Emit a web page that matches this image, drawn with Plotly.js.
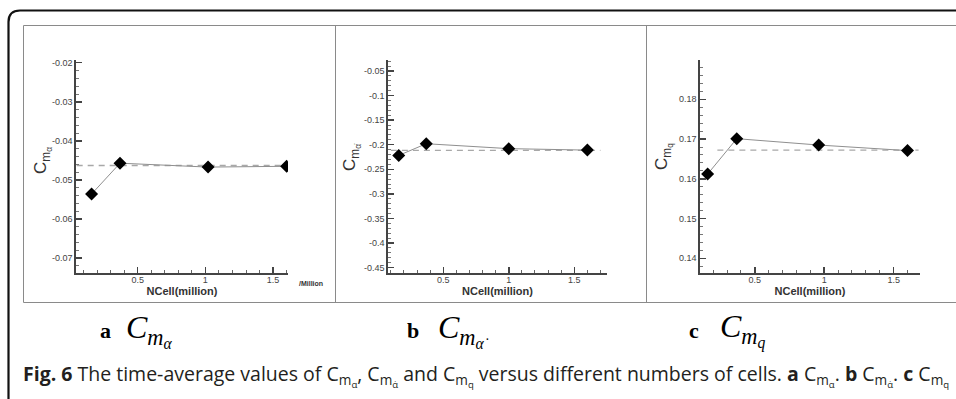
<!DOCTYPE html>
<html>
<head>
<meta charset="utf-8">
<script src="https://cdn.plot.ly/plotly-3.0.1.min.js"></script>
<style>html,body{margin:0;padding:0;background:#fff;}#chart{width:956px;height:399px;}</style>
</head>
<body>
<div id="chart"></div>
<script>
// ---- data ----
var xA = [0.16, 0.37, 1.02, 1.6];
var yA = [-0.0536, -0.0457, -0.0467, -0.0465];
var refA = -0.0463;
var dashXA = [0.05, 1.61];

var xB = [0.16, 0.37, 1.0, 1.6];
var yB = [-0.2218, -0.198, -0.208, -0.211];
var refB = -0.2117;
var dashXB = [0.1, 1.7];

var xC = [0.16, 0.37, 0.96, 1.6];
var yC = [0.1612, 0.1701, 0.1685, 0.1671];
var refC = 0.1672;
var dashXC = [0.23, 1.68];

var xTickVals = [0.5, 1, 1.5];
var xTickText = ["0.5", "1", "1.5"];
var yTickValsA = [-0.02, -0.03, -0.04, -0.05, -0.06, -0.07];
var yTickTextA = ["-0.02", "-0.03", "-0.04", "-0.05", "-0.06", "-0.07"];
var yTickValsB = [-0.05, -0.1, -0.15, -0.2, -0.25, -0.3, -0.35, -0.4, -0.45];
var yTickTextB = ["-0.05", "-0.1", "-0.15", "-0.2", "-0.25", "-0.3", "-0.35", "-0.4", "-0.45"];
var yTickValsC = [0.14, 0.15, 0.16, 0.17, 0.18];
var yTickTextC = ["0.14", "0.15", "0.16", "0.17", "0.18"];

var yTitles = ['C<sub>m<sub>α</sub></sub>', 'C<sub>m<sub>α̇</sub></sub>', 'C<sub>m<sub>q</sub></sub>'];
var xTitle = 'NCell(million)';

// ---- helpers ----
var W = 956, H = 399;
function px(x){ return x / W; }
function py(y){ return 1 - y / H; }

var lineCol = '#8f8f8f';
var dashCol = '#a8a8a8';
function series(x, y, xa, ya){
  return {x: x, y: y, xaxis: xa, yaxis: ya, type: 'scatter', mode: 'lines+markers',
    line: {color: lineCol, width: 1},
    marker: {symbol: 'diamond', size: 10, color: '#000'},
    showlegend: false, hoverinfo: 'x+y'};
}
function refLine(xr, v, xa, ya){
  return {x: xr, y: [v, v], xaxis: xa, yaxis: ya, type: 'scatter', mode: 'lines',
    line: {color: dashCol, width: 1.3, dash: '6px,5px'}, showlegend: false, hoverinfo: 'skip'};
}

var data = [
  refLine(dashXA, refA, 'x', 'y'), series(xA, yA, 'x', 'y'),
  refLine(dashXB, refB, 'x2', 'y2'), series(xB, yB, 'x2', 'y2'),
  refLine(dashXC, refC, 'x3', 'y3'), series(xC, yC, 'x3', 'y3')
];

var tickFont = {family: 'Liberation Sans, Arial, sans-serif', size: 9, color: '#444'};
function xaxis(l, r, range, anchor){
  return {domain: [px(l), px(r)], range: range, anchor: anchor,
    showline: true, linecolor: '#444', linewidth: 1.6, zeroline: false, showgrid: false,
    ticks: 'inside', ticklen: 6, tickwidth: 1.5, tickcolor: '#444',
    tickvals: xTickVals, ticktext: xTickText, tickfont: tickFont, ticklabelstandoff: -2,
    minor: {ticks: 'inside', ticklen: 3, tickwidth: 1, tickcolor: '#666', dtick: 0.1, tick0: 0},
    title: {text: '<b>' + xTitle + '</b>', font: {family: 'Liberation Sans, Arial, sans-serif', size: 11, color: '#333'}, standoff: 0}
  };
}
function yaxis(t, b, range, anchor, vals, txt, minorD){
  return {domain: [py(b), py(t)], range: range, anchor: anchor,
    showline: true, linecolor: '#444', linewidth: 1.6, zeroline: false, showgrid: false,
    ticks: 'inside', ticklen: 6, tickwidth: 1.5, tickcolor: '#444',
    tickvals: vals, ticktext: txt, tickfont: tickFont, ticklabelstandoff: 0,
    minor: {ticks: 'inside', ticklen: 3, tickwidth: 1, tickcolor: '#777', dtick: minorD, tick0: 0}
  };
}

var serif = 'Liberation Serif, Times New Roman, serif';
var capFont = 'Open Sans, Noto Sans, sans-serif';

var shapes = [
  // outer rounded frame
  {type: 'path', xref: 'paper', yref: 'paper',
   path: 'M ' + px(8.5) + ',' + py(402) + ' L ' + px(8.5) + ',' + py(22) +
         ' Q ' + px(8.5) + ',' + py(10.5) + ' ' + px(20) + ',' + py(10.5) + ' L ' + px(960) + ',' + py(10.5),
   line: {color: '#111', width: 2.2}},
  // panel box
  {type: 'rect', xref: 'paper', yref: 'paper', x0: px(23.5), x1: px(962), y0: py(302.5), y1: py(25.5),
   line: {color: '#8a8a8a', width: 1}},
  {type: 'line', xref: 'paper', yref: 'paper', x0: px(335.5), x1: px(335.5), y0: py(302.5), y1: py(25.5),
   line: {color: '#8a8a8a', width: 1}},
  {type: 'line', xref: 'paper', yref: 'paper', x0: px(646.5), x1: px(646.5), y0: py(302.5), y1: py(25.5),
   line: {color: '#8a8a8a', width: 1}}
];

function ann(x, y, text, font, xanchor, yanchor, angle){
  return {xref: 'paper', yref: 'paper', x: px(x), y: py(y), text: text, showarrow: false,
    font: font, xanchor: xanchor || 'left', yanchor: yanchor || 'middle', textangle: angle || 0};
}
var yTitleFont = {family: 'Liberation Sans, Arial, sans-serif', size: 17, color: '#333'};

var annotations = [
  ann(43, 161, yTitles[0], yTitleFont, 'center', 'middle', -90),
  ann(352, 157, yTitles[1], yTitleFont, 'center', 'middle', -90),
  ann(664, 157, yTitles[2], yTitleFont, 'center', 'middle', -90),
  ann(297, 283, '<b>/Million</b>', {family: 'Liberation Sans, Arial, sans-serif', size: 7, color: '#333'}),
  ann(98, 330, '<b>a</b>', {family: serif, size: 22, color: '#000'}),
  ann(124, 330, '<i>C</i><sub><i>m</i><sub><i>α</i></sub></sub>', {family: serif, size: 32, color: '#000'}),
  ann(405, 330, '<b>b</b>', {family: serif, size: 22, color: '#000'}),
  ann(436, 330, '<i>C</i><sub><i>m</i><sub><i>α̇</i></sub></sub>', {family: serif, size: 32, color: '#000'}),
  ann(687, 330, '<b>c</b>', {family: serif, size: 22, color: '#000'}),
  ann(718, 330, '<i>C</i><sub><i>m</i><sub><i>q</i></sub></sub>', {family: serif, size: 32, color: '#000'}),
  ann(21, 375, '<b>Fig. 6</b> The time-average values of C<sub>m<sub>α</sub></sub>, C<sub>m<sub>α̇</sub></sub> and C<sub>m<sub>q</sub></sub> versus different numbers of cells. <b>a</b> C<sub>m<sub>α</sub></sub>. <b>b</b> C<sub>m<sub>α̇</sub></sub>. <b>c</b> C<sub>m<sub>q</sub></sub>',
      {family: capFont, size: 19.5, color: '#231f20'})
];

var layout = {
  width: W, height: H, margin: {l: 0, r: 0, t: 0, b: 0},
  paper_bgcolor: '#fff', plot_bgcolor: 'rgba(0,0,0,0)',
  showlegend: false,
  xaxis: xaxis(76, 288, [0.045, 1.61], 'y'),
  yaxis: yaxis(60, 273, [-0.0738, -0.0193], 'x', yTickValsA, yTickTextA, 0.002),
  xaxis2: xaxis(388, 607, [0.078, 1.75], 'y2'),
  yaxis2: yaxis(60, 273, [-0.461, -0.0277], 'x2', yTickValsB, yTickTextB, 0.01),
  xaxis3: xaxis(700, 920, [0.105, 1.69], 'y3'),
  yaxis3: yaxis(60, 273, [0.1363, 0.1899], 'x3', yTickValsC, yTickTextC, 0.002),
  shapes: shapes,
  annotations: annotations
};

Plotly.newPlot('chart', data, layout, {staticPlot: true, displayModeBar: false});
</script>
</body>
</html>
